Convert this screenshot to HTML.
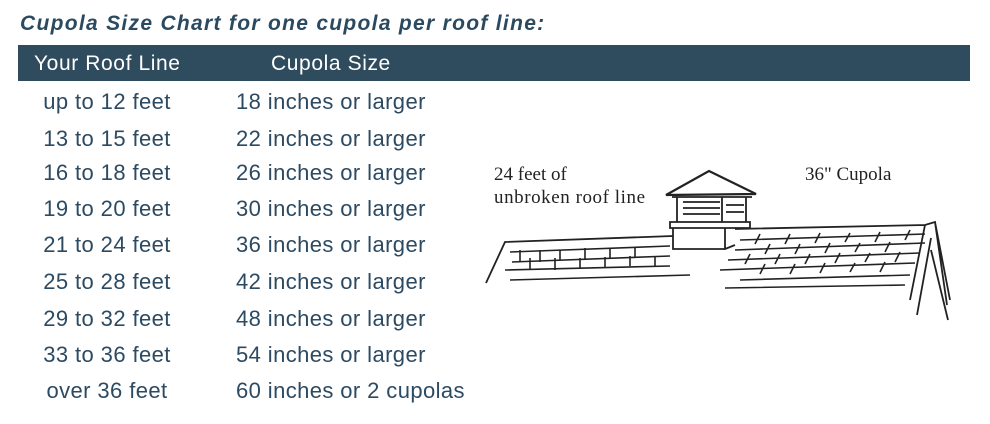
<!DOCTYPE html>
<html><head><style>
body{margin:0;width:990px;height:424px;background:#fff;position:relative;overflow:hidden;font-family:"Liberation Sans",sans-serif;color:#2c4a62}
.t{position:absolute;left:20px;top:12px;font-size:21px;font-weight:bold;font-style:italic;color:#2b4a60;letter-spacing:1.3px}
.bar{position:absolute;left:18px;top:45px;width:952px;height:36px;background:#2f4b5e}
.h{position:absolute;top:52px;font-size:21px;color:#fff;letter-spacing:0.6px}
.r{position:absolute;font-size:22px;line-height:24px;letter-spacing:0.4px}
.c1{left:0;width:214px;text-align:center}
.c2{left:236px}
svg{position:absolute;left:0;top:0}
</style></head><body>
<div class="t">Cupola Size Chart for one cupola per roof line:</div>
<div class="bar"></div>
<div class="h" style="left:34px">Your Roof Line</div>
<div class="h" style="left:271px">Cupola Size</div>
<div class="r c1" style="top:90px">up to 12 feet</div><div class="r c2" style="top:90px">18 inches or larger</div>
<div class="r c1" style="top:127px">13 to 15 feet</div><div class="r c2" style="top:127px">22 inches or larger</div>
<div class="r c1" style="top:161px">16 to 18 feet</div><div class="r c2" style="top:161px">26 inches or larger</div>
<div class="r c1" style="top:197px">19 to 20 feet</div><div class="r c2" style="top:197px">30 inches or larger</div>
<div class="r c1" style="top:233px">21 to 24 feet</div><div class="r c2" style="top:233px">36 inches or larger</div>
<div class="r c1" style="top:270px">25 to 28 feet</div><div class="r c2" style="top:270px">42 inches or larger</div>
<div class="r c1" style="top:307px">29 to 32 feet</div><div class="r c2" style="top:307px">48 inches or larger</div>
<div class="r c1" style="top:343px">33 to 36 feet</div><div class="r c2" style="top:343px">54 inches or larger</div>
<div class="r c1" style="top:379px">over 36 feet</div><div class="r c2" style="top:379px">60 inches or 2 cupolas</div>
<svg width="990" height="424" fill="none" stroke="#222" stroke-width="1.8">
<text x="494" y="180" font-family="Liberation Serif,serif" font-size="19" fill="#222" stroke="none">24 feet of</text>
<text x="494" y="203" font-family="Liberation Serif,serif" font-size="19" fill="#222" stroke="none" textLength="151">unbroken roof line</text>
<text x="805" y="180" font-family="Liberation Serif,serif" font-size="19" fill="#222" stroke="none">36" Cupola</text>
<path d="M666 195 L709 171 L756 194 Z" stroke-width="2.2"/>
<path d="M672 197 L752 197 M677 197 L677 222 M722 197 L722 222 M746 197 L746 222 M683 202 L720 202 M683 208 L720 208 M683 214 L720 214 M726 205 L744 205 M726 212 L744 212"/>
<path d="M670 222 L750 222 L750 228 L670 228 Z M673 228 L673 249 L725 249 L725 228 M725 249 L735 245"/>
<path d="M486 283 L505 242 L673 236 M735 229 L925 225 L935 222 L950 300 M925 225 L910 300 M931 238 L917 315 M931 250 L948 320 M935 222 L947 305"/>
<g stroke-width="1.6">
<path d="M510 252 L670 246 M512 262 L670 256 M505 270 L670 266 M510 280 L690 275 M740 240 L925 234 M735 250 L925 243 M728 260 L920 253 M720 270 L915 263 M740 280 L910 275 M725 288 L905 285"/>
<path d="M520 250 L520 262 M540 250 L540 262 M560 250 L560 260 M585 248 L585 260 M610 248 L610 258 M635 247 L635 258 M530 258 L530 270 M555 258 L555 270 M580 258 L580 268 M605 257 L605 268 M630 256 L630 266 M655 256 L655 266 M760 234 L755 244 M790 234 L785 244 M820 233 L815 243 M850 233 L845 242 M880 232 L875 242 M910 230 L905 240 M770 244 L765 254 M800 244 L795 254 M830 243 L825 253 M860 243 L855 252 M890 242 L885 252 M750 254 L745 264 M780 254 L775 264 M810 254 L805 264 M840 253 L835 263 M870 253 L865 262 M900 252 L895 262 M765 264 L760 274 M795 264 L790 274 M825 263 L820 273 M855 263 L850 272 M885 262 L880 272"/>
</g>
</svg>
</body></html>
